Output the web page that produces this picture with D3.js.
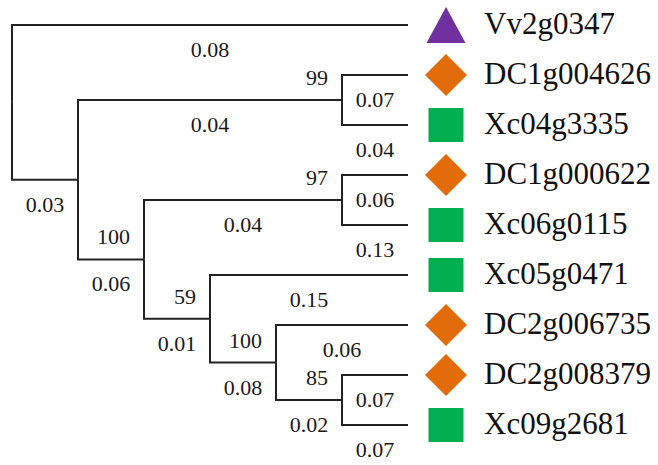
<!DOCTYPE html>
<html>
<head>
<meta charset="utf-8">
<script src="https://cdn.jsdelivr.net/npm/d3@7"></script>
<style>
  body { margin: 0; background: #fff; }
</style>
</head>
<body>
<svg width="658" height="465"></svg>
<script>
// leaves, top to bottom
const taxa = ["Vv2g0347", "DC1g004626", "Xc04g3335", "DC1g000622", "Xc06g0115",
              "Xc05g0471", "DC2g006735", "DC2g008379", "Xc09g2681"];
const taxonGroups = ["Vv", "DC", "Xc", "DC", "Xc", "Xc", "DC", "DC", "Xc"];
const taxonParents = ["root", "n2", "n2", "n4", "n4", "n5", "n6", "n7", "n7"];
const taxonLengths = [0.08, 0.07, 0.04, 0.06, 0.13, 0.15, 0.06, 0.07, 0.07];

// internal nodes
const clades = ["root", "n1", "n2", "n3", "n4", "n5", "n6", "n7"];
const cladeParents = [null, "root", "n1", "n1", "n3", "n3", "n5", "n6"];
const cladeLengths = [null, 0.03, 0.04, 0.06, 0.04, 0.01, 0.08, 0.02];
const cladeSupport = [null, null, 99, 100, 97, 59, 100, 85];

const groupColors = { Vv: "#7030a0", DC: "#e36c0a", Xc: "#00b050" };
const serif = "Liberation Serif";

const svg = d3.select("svg");
const marginLeft = 12, marginTop = 0;

const rows = [
  ...clades.map((id, i) => ({ id, parent: cladeParents[i], length: cladeLengths[i], support: cladeSupport[i] })),
  ...taxa.map((id, i) => ({ id, parent: taxonParents[i], length: taxonLengths[i], group: taxonGroups[i], order: i }))
];

const root = d3.stratify().id(d => d.id).parentId(d => d.parent)(rows);
// keep leaf order as listed
root.sort((a, b) => d3.min(a.leaves(), l => l.data.order) - d3.min(b.leaves(), l => l.data.order));

// 9 leaves, 50px apart (cluster pads half a step at each end)
d3.cluster()
  .size([450, 396])
  .separation(() => 1)(root);

const g = svg.append("g").attr("transform", `translate(${marginLeft},${marginTop})`);

// elbow branches
g.selectAll("path.branch")
  .data(root.descendants().filter(d => d.parent))
  .join("path")
  .attr("class", "branch")
  .attr("fill", "none")
  .attr("stroke", "#222")
  .attr("stroke-width", 2)
  .attr("d", d => `M${d.parent.y},${d.parent.x}V${d.x}H${d.y}`);

// branch lengths, under each branch
g.selectAll("text.blen")
  .data(root.descendants().filter(d => d.parent))
  .join("text")
  .attr("class", "blen")
  .attr("font-family", serif)
  .attr("font-size", 22)
  .attr("fill", "#1a1a1a")
  .attr("x", d => (d.parent.y + d.y) / 2)
  .attr("y", d => d.x + 32)
  .attr("text-anchor", "middle")
  .text(d => d.data.length.toFixed(2));

// bootstrap values
g.selectAll("text.support")
  .data(root.descendants().filter(d => d.data.support != null))
  .join("text")
  .attr("class", "support")
  .attr("font-family", serif)
  .attr("font-size", 22)
  .attr("fill", "#1a1a1a")
  .attr("x", d => d.y - 14)
  .attr("y", d => d.x - 15)
  .attr("text-anchor", "end")
  .text(d => d.data.support);

// markers
const shapeTypes = {
  Vv: { draw(ctx) { ctx.moveTo(0, -18); ctx.lineTo(19.5, 18); ctx.lineTo(-19.5, 18); ctx.closePath(); } },
  DC: { draw(ctx) { ctx.moveTo(0, -21); ctx.lineTo(21, 0); ctx.lineTo(0, 21); ctx.lineTo(-21, 0); ctx.closePath(); } },
  Xc: { draw(ctx) { ctx.rect(-17.5, -17, 35, 34); } }
};

const leaves = g.selectAll("g.leaf")
  .data(root.leaves())
  .join("g")
  .attr("class", "leaf")
  .attr("transform", d => `translate(${d.y},${d.x})`);

leaves.append("path")
  .attr("transform", "translate(38,0)")
  .attr("d", d => d3.symbol().type(shapeTypes[d.data.group])())
  .attr("fill", d => groupColors[d.data.group]);

leaves.append("text")
  .attr("class", "taxon")
  .attr("font-family", serif)
  .attr("font-size", 31)
  .attr("fill", "#111")
  .attr("x", 76)
  .attr("y", 9)
  .text(d => d.data.id);
</script>
</body>
</html>
